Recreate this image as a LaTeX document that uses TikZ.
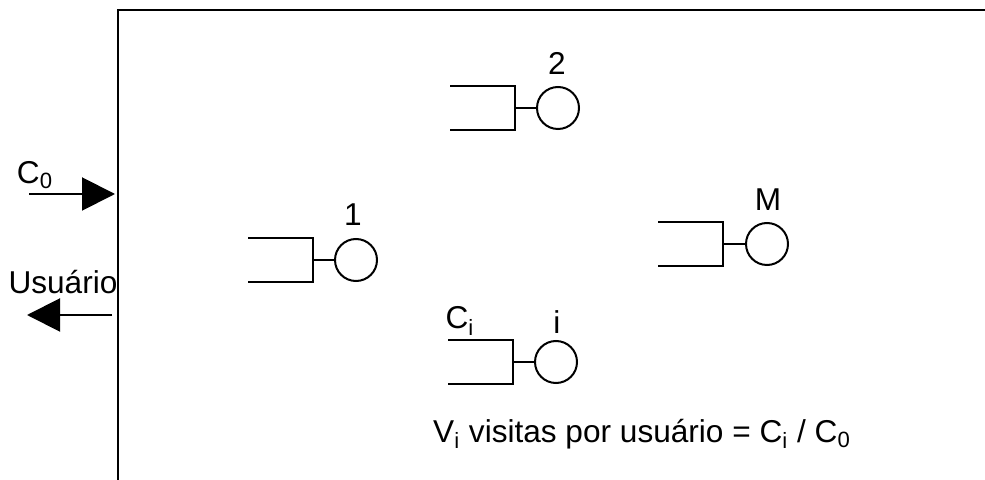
\documentclass[tikz,border=0pt]{standalone}
\usepackage{fontspec}
\setmainfont{Liberation Sans}
\usetikzlibrary{arrows.meta}

\tikzset{
  servidor/.style={circle, draw, line width=1pt, minimum size=21pt, inner sep=0pt},
  fila/.pic={\draw[line width=1pt] (-65,-22) -- (0,-22) -- (0,22) -- (-65,22);},
  seta/.style={line width=1pt, -{Triangle[length=16.5pt,width=16.5pt]}}
}

\begin{document}
\begin{tikzpicture}[x=0.5pt, y=-0.5pt, font=\fontsize{15.8}{19}\selectfont]

\useasboundingbox (0,0) rectangle (985,480);

\draw[line width=1.4pt] (118,480) -- (118,10) -- (985,10);

\coordinate (f1) at (313,260);
\pic at (f1) {fila};
\node[servidor] (s1) at (356,260) {};
\draw[line width=1pt] (f1) -- (s1);
\node at (353,215) {1};

\coordinate (f2) at (515,108);
\pic at (f2) {fila};
\node[servidor] (s2) at (558,108) {};
\draw[line width=1pt] (f2) -- (s2);
\node at (557,63) {2};

\coordinate (fM) at (723,244);
\pic at (fM) {fila};
\node[servidor] (sM) at (767,244) {};
\draw[line width=1pt] (fM) -- (sM);
\node at (768,200) {M};

\coordinate (fi) at (513,362);
\pic at (fi) {fila};
\node[servidor] (si) at (556,362) {};
\draw[line width=1pt] (fi) -- (si);
\node at (557,322) {i};
\node at (460,321) {C\textsubscript{i}};

\node at (642,434) {V\textsubscript{i} visitas por usuário = C\textsubscript{i} / C\textsubscript{0}};

\coordinate (entra) at (29,194);
\coordinate (borda1) at (115,194);
\draw[seta] (entra) -- (borda1);
\node at (35,175) {C\textsubscript{0}};

\coordinate (borda2) at (112,315);
\coordinate (sai) at (27,315);
\draw[seta] (borda2) -- (sai);
\node at (63,282) {Usuário};

\end{tikzpicture}
\end{document}
